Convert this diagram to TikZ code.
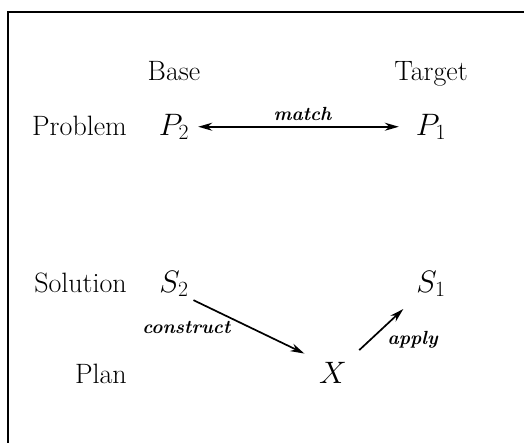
\RequirePackage{fix-cm}
\documentclass[tikz,border=0pt]{standalone}
\usepackage{amsmath,amssymb}
\usetikzlibrary{arrows.meta,positioning}

\begin{document}
\begin{tikzpicture}[
    x=1pt, y=-1pt,
    word/.style={anchor=base, font=\fontsize{28}{32}\selectfont, inner sep=2pt},
    rowlabel/.style={word, anchor=base east},
    sym/.style={anchor=base, font=\fontsize{31}{35}\selectfont, inner sep=2pt},
    tag/.style={font=\fontsize{19}{22}\selectfont\itshape\bfseries, inner sep=2pt},
    arrow/.style={-{Stealth[length=14pt,width=8pt]}, line width=1.7pt}
]
    \useasboundingbox (0,0) rectangle (524,442);
    % frame (only left and top edges are visible)
    \draw[line width=1.8pt] (8,450) -- (8,12) -- (540,12);

    % column heads
    \node[word] (base) at (174,80) {Base};
    \node[word] (target) at (431,80) {Target};

    % row heads
    \node[rowlabel] (problem) at (129,135) {Problem};
    \node[rowlabel] (solution) at (129,292) {Solution};
    \node[rowlabel] (plan) at (129,383) {Plan};

    % entries
    \node[sym] (p2) at (174,135) {$P_2$};
    \node[sym] (p1) at (431,135) {$P_1$};
    \node[sym] (s2) at (174,292) {$S_2$};
    \node[sym] (s1) at (431,292) {$S_1$};
    \node[sym] (x) at (333,383) {$X$};

    \draw[{Stealth[length=14pt,width=8pt]}-{Stealth[length=14pt,width=8pt]}, line width=1.7pt, shorten <=7pt, shorten >=15pt]
        (p2) -- node[tag, above=3pt] (match) {match} (p1);
    \draw[arrow, shorten <=3pt, shorten >=14pt]
        (s2.south east) -- node[tag, pos=0.32, below left=0pt and -2pt] (construct) {construct} (x.north west);
    \draw[arrow, shorten <=14pt, shorten >=15pt]
        (x.north east) -- node[tag, pos=0.55, below right=2pt and 0pt] (apply) {apply} (s1.south west);
\end{tikzpicture}
\end{document}
